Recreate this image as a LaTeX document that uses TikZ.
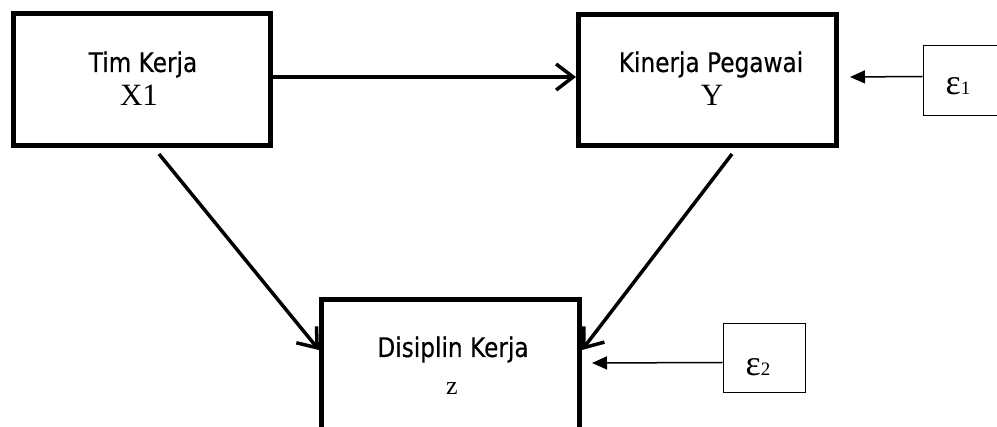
\documentclass[tikz,border=0pt]{standalone}
\usepackage{fontspec}
\setmainfont{Liberation Serif}
\newfontfamily\labfont[FakeStretch=0.86,FakeBold=0.4]{DejaVu Sans}
\usetikzlibrary{arrows.meta,calc}
\tikzset{
  bigbox/.style={draw, line width=5pt, inner sep=0pt, fill=white},
  epsbox/.style={draw, line width=1pt, inner sep=0pt, minimum width=82pt},
  sanslab/.style={inner sep=0pt, anchor=base, font=\labfont\fontsize{27}{30}\selectfont},
  serlab/.style={inner sep=0pt, anchor=base, font=\fontsize{31}{34}\selectfont},
  smallser/.style={inner sep=0pt, anchor=base, font=\fontsize{26}{28}\selectfont},
  epslab/.style={inner sep=0pt, anchor=base},
  mainarrow/.style={line width=3.5pt, -{Straight Barb[length=17pt,width=26pt,line width=3.5pt]}},
  errarrow/.style={line width=1.5pt, -{Triangle[length=15pt,width=13pt]}}
}
\begin{document}
\begin{tikzpicture}[x=1pt,y=-1pt]
\useasboundingbox (0,0) rectangle (997,427);
\clip (0,0) rectangle (997,427);
% boxes
\node[bigbox, minimum width=257pt, minimum height=132pt] (x1) at (142,79.5) {};
\node[bigbox, minimum width=258pt, minimum height=131pt] (y) at (707.5,80) {};
\node[bigbox, minimum width=258pt, minimum height=170pt] (z) at (450.5,384.5) {};
\node[epsbox, minimum height=70pt] (e1) at (964,81) {};
\node[epsbox, minimum height=69pt] (e2) at (764,358.5) {};
% texts
\node[sanslab] (tx1a) at (143,72) {Tim Kerja};
\node[serlab] (tx1b) at (139,106) {X1};
\node[sanslab] (tya) at (711,72) {Kinerja Pegawai};
\node[serlab] (tyb) at (712,106) {Y};
\node[sanslab] (tza) at (453,357) {Disiplin Kerja};
\node[smallser] (tzb) at (452,395) {z};
\node[epslab] (te1) at (958,95) {\fontsize{36}{36}\selectfont ε\fontsize{19}{20}\selectfont 1};
\node[epslab] (te2) at (758,376) {\fontsize{36}{36}\selectfont ε\fontsize{19}{20}\selectfont 2};
% connectors
\draw[mainarrow] ($(x1.north east)+(0,66)$) -- ($(y.north west)+(0,65)$);
\draw[mainarrow] ($(x1.south west)+(148,6)$) -- ($(z.north west)+(0,53)$);
\draw[mainarrow] ($(y.south west)+(156,6)$) -- ($(z.north east)+(0,53)$);
\draw[errarrow] ($(e1.north west)+(0,31)$) -- ($(y.north east)+(11,65)$);
\draw[errarrow] ($(e2.north west)+(0,39)$) -- ($(z.north east)+(10,66)$);
\end{tikzpicture}
\end{document}
